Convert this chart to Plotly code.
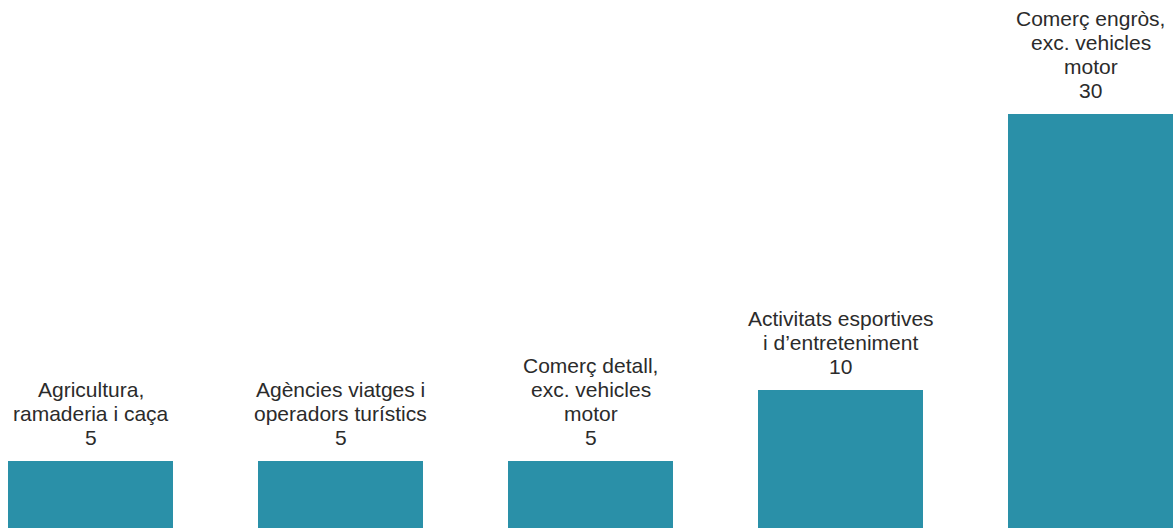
import plotly.graph_objects as go

categories = [
    "Agricultura,<br>ramaderia i caça",
    "Agències viatges i<br>operadors turístics",
    "Comerç detall,<br>exc. vehicles<br>motor",
    "Activitats esportives<br>i d’entreteniment",
    "Comerç engròs,<br>exc. vehicles<br>motor",
]
values = [4.86, 4.86, 4.86, 10, 30]
value_labels = ["5", "5", "5", "10", "30"]

BAR_COLOR = "#2a90a8"
TEXT_COLOR = "#2b2b2b"
FONT = "Liberation Sans, Arial, Helvetica, sans-serif"
FONT_SIZE = 21
LINE_STEP = 24
BASE_GAP = 23.5

xs = list(range(len(values)))

fig = go.Figure()
fig.add_trace(go.Bar(
    x=xs, y=values, width=0.66,
    marker=dict(color=BAR_COLOR, line=dict(width=0)),
    hoverinfo="skip",
))

annotations = []
for i, (cat, v, lab) in enumerate(zip(categories, values, value_labels)):
    lines = cat.split("<br>") + [lab]
    n = len(lines)
    for j, line in enumerate(lines):
        k = n - 1 - j
        annotations.append(dict(
            x=xs[i], y=v, xref="x", yref="y",
            text=line, showarrow=False,
            xanchor="center", yanchor="middle",
            yshift=BASE_GAP + LINE_STEP * k,
            font=dict(family=FONT, size=FONT_SIZE, color=TEXT_COLOR),
            borderpad=0, borderwidth=0,
        ))

fig.update_layout(
    width=1174, height=528,
    margin=dict(l=0, r=0, t=0, b=0),
    paper_bgcolor="white", plot_bgcolor="white",
    showlegend=False,
    annotations=annotations,
    xaxis=dict(range=[-0.362, 4.334], visible=False, fixedrange=True),
    yaxis=dict(range=[0, 528 / 13.8], visible=False, fixedrange=True),
)

fig.write_html("out.html", config={"displayModeBar": False})
